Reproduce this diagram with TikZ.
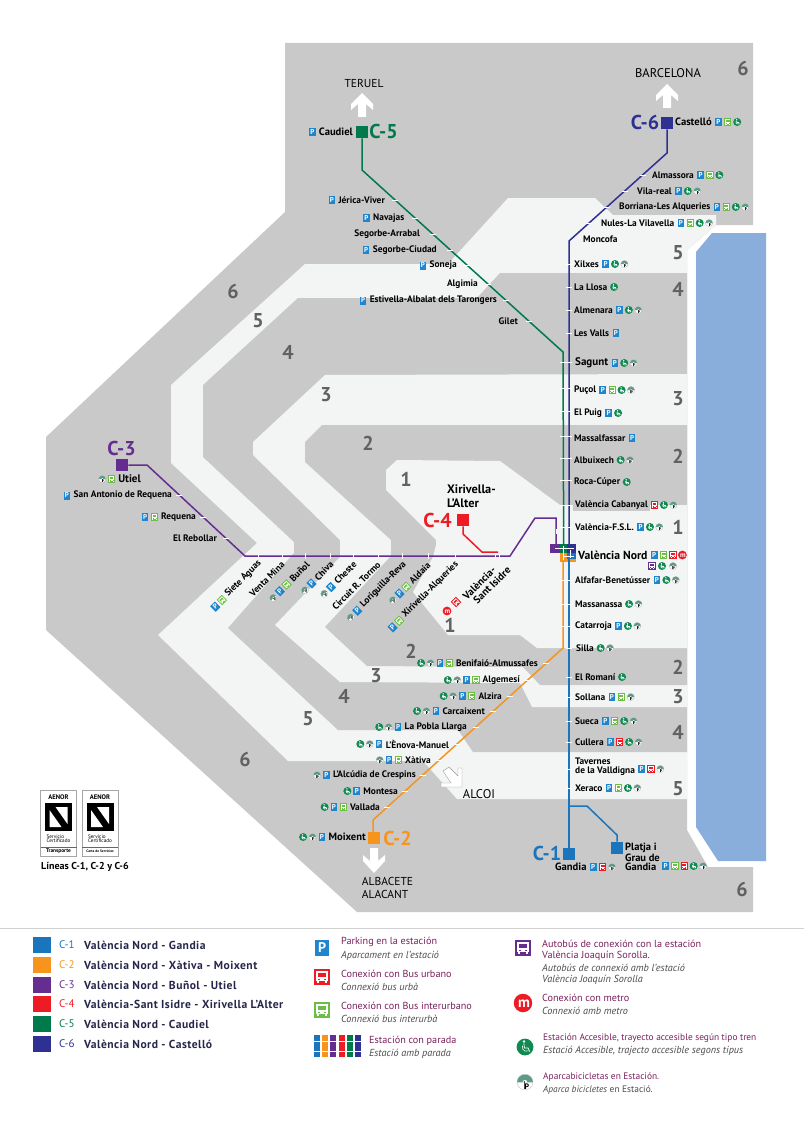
\documentclass[tikz,border=0pt]{standalone}
\usepackage{fontspec}
\setmainfont{PT Sans}
\usepackage{xcolor}
\usetikzlibrary{calc}

\definecolor{zonegray}{HTML}{C9C9C9}
\definecolor{zonelight}{HTML}{F3F5F5}
\definecolor{seablue}{HTML}{8AAEDC}
\definecolor{lineCa}{HTML}{1B75BC}
\definecolor{lineCb}{HTML}{F7941D}
\definecolor{lineCc}{HTML}{662D91}
\definecolor{lineCd}{HTML}{ED1C24}
\definecolor{lineCe}{HTML}{007A4B}
\definecolor{lineCf}{HTML}{2E3192}
\definecolor{parkblue}{HTML}{1F86CE}
\definecolor{interbus}{HTML}{6CBE45}
\definecolor{acgreen}{HTML}{0F8A50}
\definecolor{bikegray}{HTML}{5F9A86}
\definecolor{legtitle}{HTML}{7A1F5C}
\definecolor{legtext}{HTML}{4A4A4A}
\definecolor{legline}{HTML}{26264A}

\tikzset{
  pics/icP/.style={code={
    \fill[parkblue] (-3.3,-4) rectangle (3.3,4);
    \node[transform shape,text=white,font=\fontsize{7}{7}\bfseries,inner sep=0pt] (-glyph) at (0,0) {P};
  }},
  pics/busicon/.style={code={
    \fill[#1] (-3.6,-3.8) rectangle (3.6,3.8);
    \fill[white] (-2.6,-2.8) rectangle (2.6,1.8);
    \fill[white] (-2.4,1.8) rectangle (-1.2,2.9);
    \fill[white] (2.4,1.8) rectangle (1.2,2.9);
    \fill[#1] (-1.9,-1.7) rectangle (1.9,-.1);
    \fill[#1] (-1.9,.7) rectangle (-1,1.3);
    \fill[#1] (1.9,.7) rectangle (1,1.3);
  }},
  pics/icU/.style={busicon=interbus},
  pics/icR/.style={busicon=lineCd},
  pics/icJ/.style={busicon=lineCc},
  pics/icA/.style={code={
    \fill[acgreen] (0,0) circle (4);
    \fill[white] (-.5,-2.6) circle (.65);
    \draw[white,line width=.7] (-.5,-1.7) -- (-.3,.5) -- (1.5,.5) -- (2.2,2.2);
    \draw[white,line width=.6] (-1.2,-.6) arc[start angle=200,end angle=60,radius=2];
  }},
  pics/icS/.style={code={
    \fill[white] (0,0) circle (3.6);
    \draw[black!30,line width=.3] (0,0) circle (3.6);
    \fill[bikegray] (-3.6,.2) arc[start angle=180,end angle=360,radius=3.6] -- cycle;
    \fill[white] (-1.1,.2) arc[start angle=180,end angle=360,radius=1.1] -- cycle;
    \draw[black!70,line width=.5] (-.3,-.3) -- (-.3,3);
    \node[transform shape,text=black,font=\fontsize{3.6}{3.6}\bfseries,inner sep=0pt] (-glyph) at (.8,1.9) {P};
  }},
  pics/icM/.style={code={
    \fill[lineCd] (0,0) circle (4.4);
    \node[transform shape,text=white,font=\fontsize{7}{7}\bfseries,inner sep=0pt] (-glyph) at (.5,.4) {m};
  }},
  stnleft/.style={anchor=west,inner sep=0pt,font=\fontsize{9.4}{9.4}\bfseries},
  stnright/.style={anchor=east,inner sep=0pt,font=\fontsize{9.4}{9.4}\bfseries},
  stnrot/.style={anchor=east,inner sep=0pt,rotate=45,font=\fontsize{9.4}{9.4}\bfseries},
  stnmid/.style={font=\fontsize{10.6}{10.6}\bfseries},
  stnbig/.style={font=\fontsize{11}{11}\bfseries},
  termsq/.style={minimum size=12.5pt,inner sep=0pt,fill=#1},
  linelabel/.style={inner sep=0pt,text=#1,font=\fontsize{20}{20}\bfseries},
  railline/.style={draw=#1,line width=1.5pt},
  tick/.style={draw=white,line width=1pt},
  zonenum/.style={inner sep=0pt,text=black!62,font=\fontsize{20}{20}\bfseries},
  destlabel/.style={inner sep=0pt,align=left,font=\fontsize{11.5}{13}\selectfont},
  whitearrow/.style={fill=white,draw=#1,line width=.4pt},
  legtag/.style={anchor=west,inner sep=0pt,font=\fontsize{11}{11}\selectfont},
  legname/.style={anchor=west,inner sep=0pt,text=legline,font=\fontsize{11.6}{11.6}\bfseries\addfontfeature{LetterSpace=4}},
  legsq/.style={minimum width=18pt,minimum height=16pt,inner sep=0pt,fill=#1},
  legtitlenode/.style={anchor=west,inner sep=0pt,text=legtitle,font=\fontsize{10.2}{10.2}\selectfont},
  legsub/.style={anchor=west,inner sep=0pt,text=legtext,font=\fontsize{10.2}{10.2}\itshape},
  legsmall/.style={font=\fontsize{9.4}{9.4}\selectfont},
  legsubsmall/.style={font=\fontsize{9.4}{9.4}\itshape},
  aenorbox/.style={draw=black!35,line width=.5pt,minimum width=36pt,minimum height=66pt,inner sep=0pt},
  aenortxt/.style={inner sep=0pt,font=\fontsize{#1}{#1}\selectfont},
}

% icons behind a label: anchor, angle, direction, list
\newcommand{\iconrow}[4]{%
  \foreach \k [count=\i from 0] in #4 {
    \pic[rotate=#2] at ($(#1)+({-#2}:{#3*(\i*9.4+6.5)})$) {ic\k};
  }%
}

\begin{document}
\begin{tikzpicture}[x=1pt,y=-1pt]
\useasboundingbox (0,0) rectangle (807,1129);

% zones
\fill[zonegray] (285,43) -- (753,43) -- (753,225) -- (716,225) -- (687,250) -- (687,830) -- (708,867) -- (753,867) -- (753,912) -- (357,912) -- (46,630) -- (46,437) -- (285,212) -- cycle;
\fill[zonelight] (508,198) -- (595,198) -- (613,215) -- (716,215) -- (716,225) -- (687,250) -- (687,799) -- (457,799) -- (423,761) -- (288,761) -- (158,635) -- (257,543) -- (171,463) -- (171,385) -- (305,264) -- (448,264) -- cycle;
\fill[zonegray] (500,273) -- (687,273) -- (687,752) -- (473,752) -- (458,730) -- (338,730) -- (228,628) -- (294,553) -- (294,542) -- (203,457) -- (203,385) -- (298,298) -- (477,298) -- cycle;
\fill[zonelight] (325,375) -- (687,374) -- (687,707) -- (532,707) -- (520,683) -- (340,682) -- (275,625) -- (340,557) -- (340,540) -- (253,455) -- (253,442) -- cycle;
\fill[zonegray] (322,425) -- (687,425) -- (687,685) -- (540,685) -- (523,667) -- (367,666) -- (325,627) -- (391,556) -- (391,540) -- (305,462) -- (305,442) -- cycle;
\fill[zonelight] (397,460) -- (500,461) -- (560,505) -- (687,505) -- (687,648) -- (537,648) -- (520,635) -- (448,635) -- (413,592) -- (433,557) -- (436,545) -- (436,540) -- (386,490) -- (386,470) -- cycle;
\fill[zonegray] (573,505) rectangle (650,511);

% sea
\fill[seablue] (696,252) -- (712,233) -- (766,233) -- (766,861) -- (718,861) -- (696,827) -- cycle;

\foreach \x/\y/\n in {743/69/6,678/253/5,678/289/4,678/399/3,678/456/2,678/527/1,678/667/2,678/697/3,678/732/4,678/789/5,742/889/6,
  233/291/6,258/321/5,288/352/4,326/395/3,368/443/2,406/479/1,450/625/1,411/651/2,376/676/3,344/696/4,308/719/5,245/759/6}{
  \node[zonenum] (num\x) at (\x,\y) {\n};
}

% terminals
\node[termsq=lineCe] (caudielsq) at (362,132) {};
\node[termsq=lineCf] (castellosq) at (667,123) {};
\node[termsq=lineCa] (gandiasq) at (569,854) {};
\node[termsq=lineCa] (platjasq) at (617,848) {};
\node[termsq=lineCb] (moixentsq) at (374,838) {};
\node[termsq=lineCc] (utielsq) at (122,465) {};
\node[termsq=lineCd] (xirivellasq) at (463,520) {};

% hub
\node[minimum width=10pt,minimum height=9pt,inner sep=0pt,fill=lineCc] (hubC) at (555,548.5) {};
\node[minimum width=7.5pt,minimum height=9pt,inner sep=0pt,fill=lineCe] (hubE) at (563.7,548.5) {};
\node[minimum width=8.5pt,minimum height=9pt,inner sep=0pt,fill=lineCf] (hubF) at (571.7,548.5) {};
\node[minimum width=16pt,minimum height=9pt,inner sep=0pt,fill=lineCb] (hubB) at (568,557.5) {};
\node[minimum width=8.5pt,minimum height=6pt,inner sep=0pt,fill=lineCa] (hubA) at (571.7,556) {};

% railway lines
\coordinate (c5a) at (362,170);
\coordinate (c5b) at (563,352);
\draw[railline=lineCe] (caudielsq) -- (c5a) -- (c5b) -- (hubE);
\coordinate (c6a) at (667,153);
\coordinate (c6b) at (569,241);
\draw[railline=lineCf] (castellosq) -- (c6a) -- (c6b) -- (569,544);
\coordinate (c2a) at (563,648);
\coordinate (c2b) at (373,820);
\draw[railline=lineCb] (563,562) -- (c2a) -- (c2b) -- (373,838);
\draw[railline=lineCa] (569,559) -- (gandiasq);
\coordinate (c1a) at (569,806);
\coordinate (c1b) at (587,806);
\coordinate (c1c) at (617,835);
\draw[railline=lineCa] (c1a) -- (c1b) -- (c1c) -- (platjasq);
\coordinate (c3a) at (147,465);
\coordinate (c3b) at (245,556);
\coordinate (c3c) at (510,556);
\coordinate (c3d) at (535,518);
\coordinate (c3e) at (556,518);
\draw[railline=lineCc] (utielsq) -- (c3a) -- (c3b) -- (c3c) -- (c3d) -- (c3e) -- (556,545);
\coordinate (c4a) at (463,534);
\coordinate (c4b) at (482,552);
\coordinate (c4c) at (498,552);
\draw[railline=lineCd] (xirivellasq) -- (c4a) -- (c4b) -- (c4c);

% stops
\foreach \y in {264,287,310,333}{ \draw[tick] (566,\y) -- (572,\y); }
\foreach \y in {362,388,411,436,458,480,505,527,580,604,626}{ \draw[tick] (560,\y) -- (572,\y); }
\foreach \y in {648,677,697,721,742,769,788}{ \draw[tick] (566,\y) -- (572,\y); }
\foreach \x in {258,282,305,330,353,378,402,428,455,495,499}{ \draw[tick] (\x,553) -- (\x,559); }
\draw[tick] (556,529) -- (556,534);
\foreach \y in {200,218,234,250,265,284,300,321}{ \draw[tick] ({362+(\y-170)*1.104-3},\y) -- ({362+(\y-170)*1.104+3},\y); }
\foreach \y in {175,191,207,223}{ \draw[tick] ({667-(\y-153)*1.114-3},\y) -- ({667-(\y-153)*1.114+3},\y); }
\foreach \y in {495,517,538}{ \draw[tick] ({147+(\y-465)*1.077-3},\y) -- ({147+(\y-465)*1.077+3},\y); }
\foreach \y in {663,680,696,711,727,744,760,775,791,807}{ \draw[tick] ({373+(820-\y)*1.105-3},\y) -- ({373+(820-\y)*1.105+3},\y); }
\draw[tick] (555,548.5) -- (574,548.5);
\draw[tick] (563.7,546) -- (563.7,560);
\draw[tick] (570,550) -- (570,558);
\draw[tick] (564,556) -- (574,556);

% line labels
\node[linelabel=lineCe] (tagCe) at (383.5,132) {C-5};
\node[linelabel=lineCf] (tagCf) at (645,123) {C-6};
\node[linelabel=lineCc] (tagCc) at (121.5,448) {C-3};
\node[linelabel=lineCd] (tagCd) at (437.5,520) {C-4};
\node[linelabel=lineCb] (tagCb) at (397.5,838) {C-2};
\node[linelabel=lineCa] (tagCa) at (547,853) {C-1};

% destinations
\node[destlabel] (teruel) at (364,83) {TERUEL};
\node[destlabel,font=\fontsize{12.6}{13}\selectfont] (barcelona) at (668,73) {BARCELONA};
\node[destlabel,font=\fontsize{12.6}{13}\selectfont] (alcoi) at (479,794) {ALCOI};
\node[destlabel] (albacete) at (387.5,888) {ALBACETE\\ALACANT};
\fill[white] (358,117) -- (358,104) -- (351,110) -- (351,104) -- (362,93) -- (373,104) -- (373,110) -- (366,104) -- (366,117) -- cycle;
\fill[white] (663,108) -- (663,95) -- (656,101) -- (656,95) -- (667,84) -- (678,95) -- (678,101) -- (671,95) -- (671,108) -- cycle;
\fill[white] (370,848) -- (370,861) -- (363,855) -- (363,861) -- (374,873) -- (385,861) -- (385,855) -- (378,861) -- (378,848) -- cycle;
\filldraw[whitearrow=black!40] (443,771) -- (449,767) -- (458,776) -- (458,768) -- (462,768) -- (462,787) -- (441,787) -- (441,783) -- (451,783) -- cycle;

% stations with the icons after the name
\foreach \nm/\x/\y/\txt/\ics in {
  almassora/652/175/Almassora/{P,U,A},vilareal/637/191/Vila-real/{P,A,S},
  borriana/619/207/Borriana-Les Alqueries/{P,U,A,S},nules/601/223/Nules-La Vilavella/{P,U,A,S},
  xilxes/574/264/Xilxes/{P,A,S},lallosa/574/287/La Llosa/{A},almenara/574/310/Almenara/{P,A,S},
  lesvalls/574/333/Les Valls/{P},pucol/574/390/Puçol/{P,U,A,S},elpuig/574/413/El Puig/{P,A},
  massalfassar/574/438/Massalfassar/{P},albuixech/574/460/Albuixech/{A,S},rocacuper/574/482/Roca-Cúper/{A},
  cabanyal/575/505/València Cabanyal/{R,A,S},fsl/575/527/València-F.S.L./{P,A,S},
  alfafar/575/580/Alfafar-Benetússer/{P,A,S},massanassa/575/604/Massanassa/{A,S},catarroja/575/626/Catarroja/{P,A,S},
  silla/576/648/Silla/{A,S},romani/575/677/El Romaní/{A},sollana/575/697/Sollana/{P,U,S},
  sueca/575/721/Sueca/{P,U,A,S},cullera/575/742/Cullera/{P,R,A,S},xeraco/575/788/Xeraco/{P,U,A,S}}{
  \node[stnleft] (\nm) at (\x,\y) {\txt};
  \iconrow{\nm.east}{0}{1}{\ics}
}
\node[stnleft,stnmid] (castello) at (675,122) {Castelló};
\iconrow{castello.east}{0}{1}{{P,U,A}}
\node[stnleft,stnmid] (gandia) at (555,867) {Gandia};
\iconrow{gandia.east}{0}{1}{{P,R,S}}
\node[stnleft] (moncofa) at (583,239.5) {Moncofa};
\node[stnleft,stnbig] (sagunt) at (575,363) {Sagunt};
\iconrow{sagunt.east}{0}{1}{{P,A,S}}
\node[stnleft,font=\fontsize{11.7}{11.7}\bfseries] (valencianord) at (578,555) {València Nord};
\iconrow{valencianord.east}{0}{1}{{P,U,R,M}}
\pic at (652,566) {icJ};
\pic at (662,566) {icA};
\pic at (673,566) {icS};
\node[stnleft,align=left] (tavernes) at (575,766.5) {Tavernes\\de la Valldigna};
\coordinate (tavicons) at (635,769);
\iconrow{tavicons}{0}{1}{{P,R,S}}
\node[stnleft,align=left,font=\fontsize{10.5}{9.2}\bfseries] (platja) at (625,857) {Platja i\\Grau de\\Gandia};
\coordinate (platicons) at (659,866);
\iconrow{platicons}{0}{1}{{P,U,R,A,S}}

% stations with the icons before the name
\foreach \nm/\x/\y/\txt/\ics in {
  jerica/385/200/Jérica-Viver/{P},navajas/404.5/218/Navajas/{P},
  segorbeciudad/437/250/Segorbe-Ciudad/{P},soneja/457/265.5/Soneja/{P},estivella/497/300.5/Estivella-Albalat dels Tarongers/{P},
  benifaio/538/663/Benifaió-Almussafes/{U,P,S,A},algemesi/520/680/Algemesí/{U,P,S,A},alzira/502/696/Alzira/{U,P,S,A},
  carcaixent/485/711/Carcaixent/{P,S,A},pobla/467/727/La Pobla Llarga/{P,S,A},enova/449/744/L'Ènova-Manuel/{P,S,A},
  xativa/431/760/Xàtiva/{U,P,S},alcudia/416/775/L'Alcúdia de Crespins/{P,S},montesa/398/791/Montesa/{P,A},
  vallada/380/807/Vallada/{U,P,A},sanantonio/172/495.5/San Antonio de Requena/{P},
  requena/196/517/Requena/{U,P}}{
  \node[stnright] (\nm) at (\x,\y) {\txt};
  \iconrow{\nm.west}{0}{-1}{\ics}
}
\node[stnright,stnmid] (caudiel) at (353,132) {Caudiel};
\iconrow{caudiel.west}{0}{-1}{{P}}
\node[stnright,stnmid] (moixent) at (366,837) {Moixent};
\iconrow{moixent.west}{0}{-1}{{P,S,A}}
\node[stnright] (segorbearrabal) at (420,234) {Segorbe-Arrabal};
\node[stnright] (algimia) at (478,284) {Algimia};
\node[stnright] (gilet) at (518,321) {Gilet};
\node[stnright] (rebollar) at (217,538) {El Rebollar};
\node[stnright,stnbig] (utiel) at (141,479) {Utiel};
\iconrow{utiel.west}{0}{-1}{{U,S}}

% stations set at an angle
\foreach \nm/\x/\y/\txt/\ics in {
  sieteaguas/260/562/Siete Aguas/{U,P},bunol/308/563/Buñol/{U,P,S},chiva/332/563/Chiva/{P,S},cheste/355/563/Cheste/{P,S},
  loriguilla/405/563/Loriguilla-Reva/{P,S},aldaia/429/564/Aldaia/{U,P,S},xirivellaalq/457/563/Xirivella-Alqueries/{U,P}}{
  \node[stnrot] (\nm) at (\x,\y) {\txt};
  \iconrow{\nm.west}{45}{-1}{\ics}
}
\node[stnrot] (ventamina) at (283,563) {Venta Mina};
\node[stnrot] (circuit) at (379,563) {Circuit R. Tormo};
\node[stnrot,font=\fontsize{10.5}{10.5}\bfseries] (santisidrea) at (494,568) {València-};
\node[stnrot,font=\fontsize{10.5}{10.5}\bfseries] (santisidreb) at (509,568) {Sant Isidre};
\pic[rotate=45] at (456,602) {icR};
\pic at (447,611) {icM};
\node[stnleft,align=left,font=\fontsize{12.3}{14.5}\bfseries] (xirivella) at (447,496) {Xirivella-\\L'Alter};

% AENOR marks
\foreach \nm/\x/\sub/\subsize in {aenora/58.5/Transporte/5.4,aenorb/100/Carta de Servicios/3.6}{
  \node[aenorbox] (\nm) at (\x,823) {};
  \node[aenortxt=6.6,font=\fontsize{6.6}{6.6}\bfseries] (\nm top) at (\x,797) {AENOR};
  \fill[black] (\x-13.5,803) rectangle (\x+13.5,831);
  \fill[white] (\x-9,810) -- (\x+3,827) -- (\x-9,827) -- cycle;
  \fill[white] (\x+9,824) -- (\x-3,807) -- (\x+9,807) -- cycle;
  \node[aenortxt=5.2,align=left] (\nm srv) at (\x,839) {Servicio\\[-1.2pt]Certificado};
  \draw[black!60,line width=.4pt] (\x-18,847) -- (\x+18,847);
  \node[aenortxt=\subsize,font=\fontsize{\subsize}{\subsize}\bfseries] (\nm sub) at (\x,851.5) {\sub};
}
\node[stnleft,font=\fontsize{10}{10}\bfseries] (aenorcap) at (41,867) {Líneas C-1, C-2 y C-6};

% legend
\draw[black!18,line width=.8pt] (0,928) -- (804,928);
\foreach \c/\n/\y/\txt in {
  lineCa/1/945/València Nord - Gandia,lineCb/2/965/València Nord - Xàtiva - Moixent,
  lineCc/3/985/València Nord - Buñol - Utiel,lineCd/4/1004/València-Sant Isidre - Xirivella L'Alter,
  lineCe/5/1024/València Nord - Caudiel,lineCf/6/1044/València Nord - Castelló}{
  \node[legsq=\c] (legsq\n) at (42,\y) {};
  \node[legtag,text=\c] (legtag\n) at (59,\y) {C-\n};
  \node[legname] (legname\n) at (84,\y) {\txt};
}
\pic[scale=2] at (322,948) {icP};
\pic[scale=2.2] at (322,977) {icR};
\pic[scale=2.2] at (322,1010) {icU};
\pic[scale=2.2] at (523,948) {icJ};
\pic[scale=2.1] at (523,1003) {icM};
\pic[scale=2.1] at (525,1047) {icA};
\pic[scale=2.2] at (525,1082) {icS};
\foreach \c/\x in {lineCa/316.7,lineCb/325,lineCc/333.3,lineCd/341.7,lineCe/350,lineCf/358.3}{
  \fill[\c] (\x-3,1035) rectangle (\x+3,1057);
  \draw[tick] (\x-3,1041) -- (\x+3,1041);
  \draw[tick] (\x-3,1051) -- (\x+3,1051);
}
\foreach \nm/\x/\y/\txt in {
  legpark/341/942/Parking en la estación,legurb/341/974/Conexión con Bus urbano,leginter/341/1006/Conexión con Bus interurbano,
  legstop/369/1041/Estación con parada,legjs/542/944/Autobús de conexión con la estación,legjsb/542/956/València Joaquín Sorolla.,
  legmetro/542/998/Conexión con metro}{
  \node[legtitlenode] (\nm) at (\x,\y) {\txt};
}
\node[legtitlenode,legsmall] (legacc) at (543,1038) {Estación Accesible, trayecto accesible según tipo tren};
\node[legtitlenode,legsmall] (legbike) at (543,1077) {Aparcabicicletas en Estación.};
\foreach \nm/\x/\y/\txt in {
  subpark/341/956/Aparcament en l'estació,suburb/341/987/Connexió bus urbà,subinter/341/1019/Connexió bus interurbà,
  substop/369/1054/Estació amb parada,subjs/542/968/Autobús de connexió amb l'estació,subjsb/542/980/València Joaquín Sorolla,
  submetro/542/1011/Connexió amb metro,subacc/543/1051/{Estació Accesible, trajecto accesible segons tipus}}{
  \node[legsub] (\nm) at (\x,\y) {\txt};
}
\node[legsub,legsubsmall] (subbike) at (543,1090) {Aparca bicicletes {\upshape en Estació.}};

\end{tikzpicture}
\end{document}
